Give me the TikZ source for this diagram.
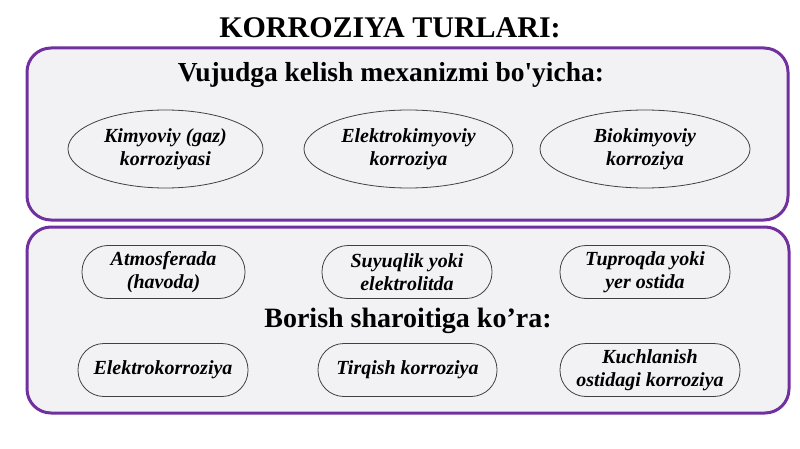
\documentclass[tikz,border=0pt]{standalone}
\usepackage{fontspec}
\setmainfont{Liberation Serif}[Ligatures=TeXOff]
\usetikzlibrary{shapes.geometric}
\definecolor{boxpurple}{HTML}{7030A0}
\definecolor{boxfill}{HTML}{F2F2F4}
\definecolor{itemline}{HTML}{404040}

\begin{document}
\begin{tikzpicture}[x=1pt, y=-1pt, font=\bfseries]
%% coordinates are in pixels of the 800x449 picture, y pointing down
\tikzstyle{group}=[draw=boxpurple,line width=3pt,fill=boxfill,rounded corners=24pt,inner sep=0pt]
\tikzstyle{kind}=[ellipse,draw=itemline,thick,fill=boxfill,minimum width=200pt,minimum height=78pt,inner sep=0pt,align=center,font=\bfseries\itshape\fontsize{20}{23}\selectfont]
\tikzstyle{place}=[rectangle,draw=itemline,thick,fill=boxfill,rounded corners=26pt,minimum height=53pt,inner sep=0pt,align=center,font=\bfseries\itshape\fontsize{20}{23.5}\selectfont]
\tikzstyle{heading}=[anchor=base,inner sep=0pt,font=\bfseries\fontsize{27.5}{31}\selectfont]
\useasboundingbox (0,0) rectangle (800,449);
%% title
\node[anchor=base,inner sep=0pt,font=\bfseries\fontsize{30}{34}\selectfont] at (390,38) (title) {KORROZIYA TURLARI:};
%% group boxes
\node[group,minimum width=761pt,minimum height=172pt] at (407.5,134) (Bmech) {};
\node[group,minimum width=762pt,minimum height=186pt] at (408,320) (Bcond) {};
%% label for group Bmech
\node[heading] at (391,82) (Hmech) {Vujudga kelish mexanizmi bo'yicha:};
%% label for group Bcond
\node[heading,font=\bfseries\fontsize{28}{32}\selectfont] at (408,327) (Hcond) {Borish sharoitiga ko’ra:};
%% kinds by mechanism
\node[kind,minimum width=195pt] at (165.5,149) (Ekim) {Kimyoviy (gaz)\\korroziyasi};
\node[kind,minimum width=209pt] at (408.5,149) (Eel) {Elektrokimyoviy\\korroziya};
\node[kind,minimum width=210pt] at (645,149) (Ebio) {Biokimyoviy\\korroziya};
%% kinds by conditions, upper row
\node[place,minimum width=163pt] at (163.5,272) (Ratm) {Atmosferada\\(havoda)};
\node[place,minimum width=170pt] at (407,272) (Rsuv) {Suyuqlik yoki\\elektrolitda};
\node[place,minimum width=170pt] at (645,272) (Rtup) {Tuproqda yoki\\yer ostida};
%% kinds by conditions, lower row
\node[place,minimum width=170pt] at (163,370) (Rel) {Elektrokorroziya};
\node[place,minimum width=179pt] at (407.5,370) (Rtir) {Tirqish korroziya};
\node[place,minimum width=180pt] at (650,370) (Rkuch) {Kuchlanish\\ostidagi korroziya};
\end{tikzpicture}
\end{document}
